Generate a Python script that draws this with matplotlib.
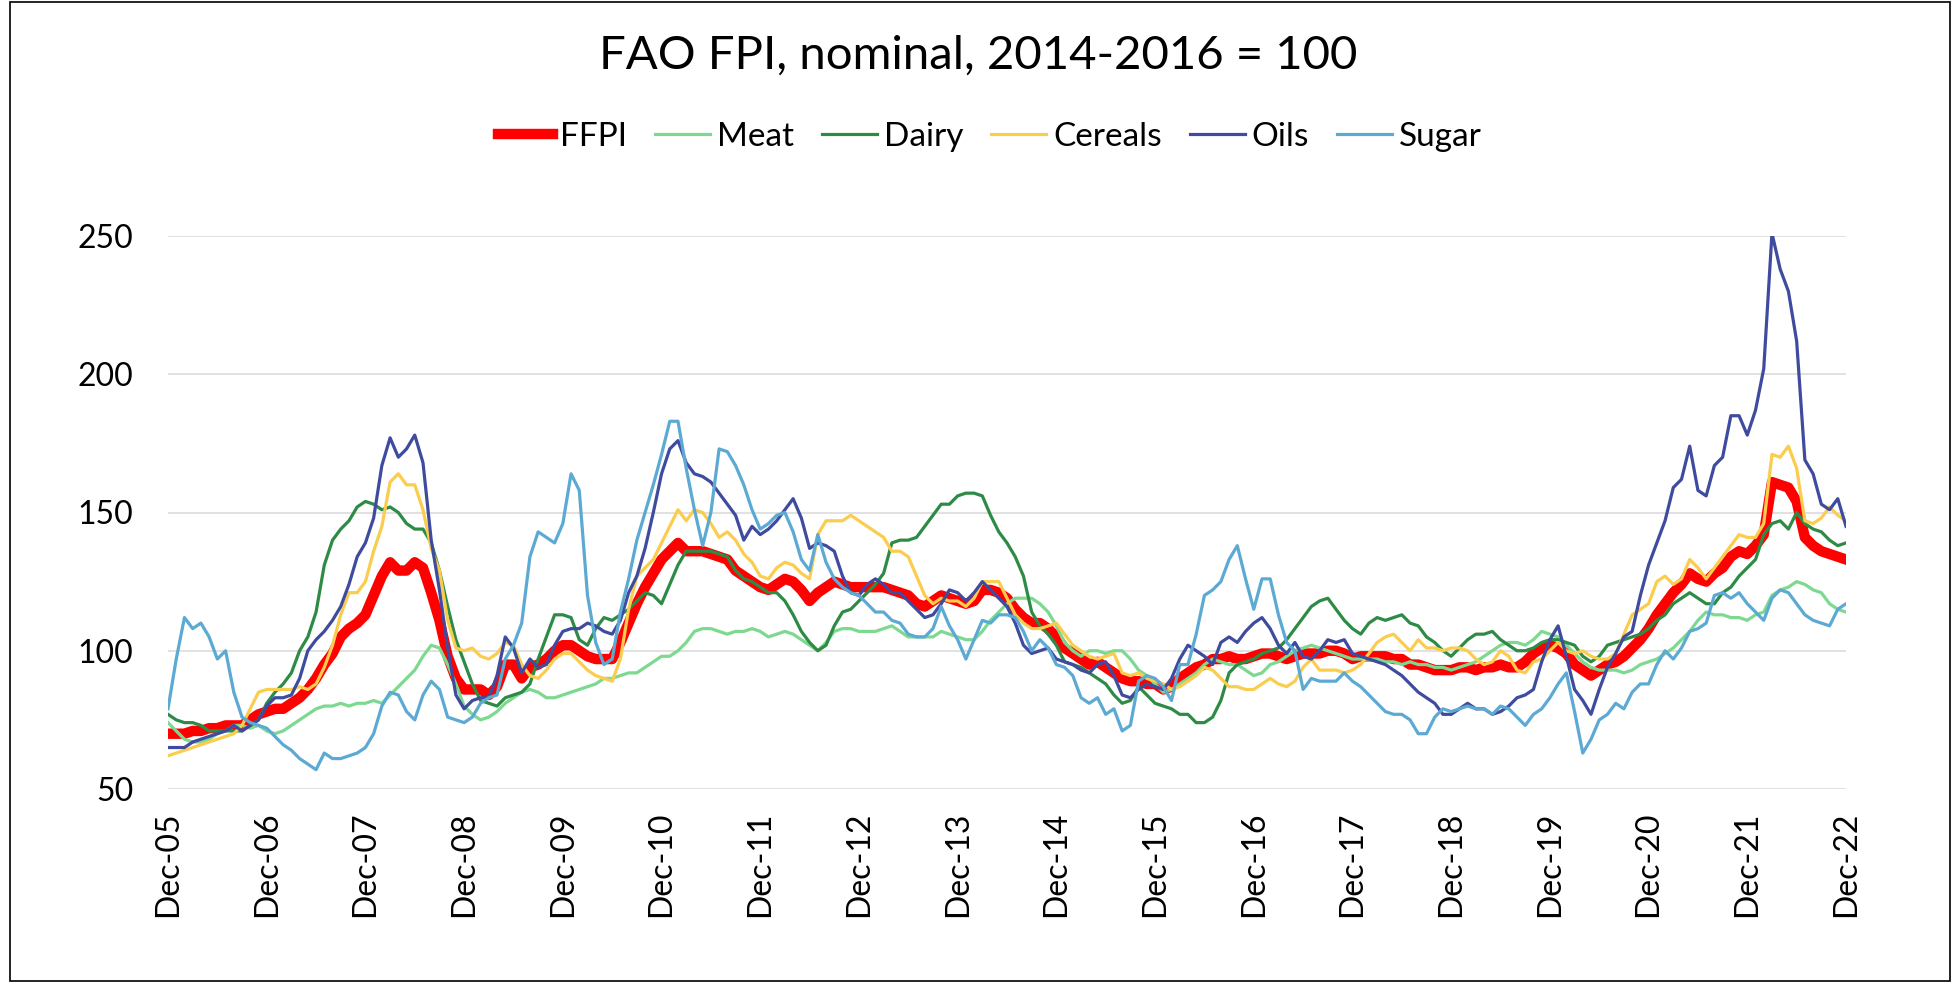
import numpy as np
import matplotlib
matplotlib.use("Agg")
import matplotlib.pyplot as plt
from matplotlib.patches import Rectangle

plt.rcParams['font.family'] = ['Lato', 'DejaVu Sans']

# monthly values, Dec-05 .. Dec-22 (2014-2016 = 100)
ffpi = [70,
        70, 70, 71, 71, 72, 72, 73, 73, 73, 75, 77, 78,          # 2006
        79, 79, 81, 83, 86, 90, 95, 99, 105, 108, 110, 113,      # 2007
        120, 127, 132, 129, 129, 132, 130, 121, 111, 98, 90, 86,  # 2008
        86, 86, 84, 87, 95, 95, 90, 94, 95, 97, 100, 102,        # 2009
        102, 100, 98, 97, 97, 97, 103, 110, 117, 123, 128, 133,  # 2010
        136, 139, 136, 136, 136, 135, 134, 133, 129, 127, 125, 123,  # 2011
        122, 124, 126, 125, 122, 118, 121, 123, 125, 124, 123, 123,  # 2012
        123, 123, 123, 122, 121, 120, 117, 116, 118, 120, 119, 118,  # 2013
        117, 118, 122, 122, 121, 119, 115, 112, 110, 110, 108, 105,  # 2014
        101, 99, 97, 95, 96, 94, 92, 90, 89, 89, 88, 88,         # 2015
        86, 87, 90, 92, 94, 95, 97, 97, 98, 97, 97, 98,          # 2016
        99, 99, 98, 97, 98, 99, 99, 99, 100, 100, 99, 97,        # 2017
        98, 98, 98, 98, 97, 97, 95, 95, 94, 93, 93, 93,          # 2018
        94, 94, 93, 94, 94, 95, 94, 94, 96, 99, 101, 102,        # 2019
        101, 99, 95, 93, 91, 93, 95, 96, 98, 101, 104, 108,      # 2020
        113, 117, 121, 124, 128, 126, 125, 128, 130, 134, 136, 135,  # 2021
        138, 142, 161, 160, 159, 154, 141, 138, 136, 135, 134, 133]  # 2022

meat = [74,
        71, 68, 67, 67, 68, 70, 71, 73, 73, 72, 73, 71,
        70, 71, 73, 75, 77, 79, 80, 80, 81, 80, 81, 81,
        82, 81, 84, 87, 90, 93, 98, 102, 101, 95, 88, 80,
        77, 75, 76, 78, 81, 83, 85, 86, 85, 83, 83, 84,
        85, 86, 87, 88, 90, 90, 91, 92, 92, 94, 96, 98,
        98, 100, 103, 107, 108, 108, 107, 106, 107, 107, 108, 107,
        105, 106, 107, 106, 104, 102, 100, 103, 107, 108, 108, 107,
        107, 107, 108, 109, 107, 105, 105, 105, 105, 107, 106, 105,
        104, 104, 107, 111, 114, 117, 119, 119, 119, 117, 114, 109,
        103, 100, 98, 100, 100, 99, 100, 100, 97, 93, 91, 88,
        85, 86, 88, 90, 92, 95, 97, 96, 95, 95, 93, 91,
        92, 95, 96, 98, 100, 101, 102, 101, 100, 99, 98, 97,
        97, 97, 97, 96, 96, 95, 96, 95, 95, 94, 94, 93,
        94, 95, 96, 98, 100, 102, 103, 103, 102, 104, 107, 106,
        105, 102, 99, 96, 94, 93, 93, 93, 92, 93, 95, 96,
        97, 99, 101, 104, 107, 111, 114, 113, 113, 112, 112, 111,
        113, 114, 120, 122, 123, 125, 124, 122, 121, 117, 115, 114]

dairy = [77,
         75, 74, 74, 73, 71, 71, 71, 71, 71, 73, 75, 81,
         85, 88, 92, 100, 105, 114, 131, 140, 144, 147, 152, 154,
         153, 151, 152, 150, 146, 144, 144, 139, 129, 116, 104, 96,
         88, 82, 81, 80, 83, 84, 85, 88, 97, 105, 113, 113,
         112, 104, 102, 108, 112, 111, 113, 115, 118, 121, 120, 117,
         124, 131, 136, 136, 136, 136, 135, 134, 129, 126, 125, 123,
         121, 121, 118, 113, 107, 103, 100, 102, 109, 114, 115, 118,
         121, 124, 128, 139, 140, 140, 141, 145, 149, 153, 153, 156,
         157, 157, 156, 149, 143, 139, 134, 127, 114, 109, 106, 102,
         96, 95, 94, 92, 90, 88, 84, 81, 82, 87, 84, 81,
         80, 79, 77, 77, 74, 74, 76, 82, 92, 95, 96, 97,
         99, 100, 101, 104, 108, 112, 116, 118, 119, 115, 111, 108,
         106, 110, 112, 111, 112, 113, 110, 109, 105, 103, 100, 98,
         101, 104, 106, 106, 107, 104, 102, 100, 100, 101, 103, 104,
         104, 103, 102, 98, 96, 98, 102, 103, 104, 105, 106, 108,
         111, 113, 117, 119, 121, 119, 117, 117, 121, 123, 127, 130,
         133, 142, 146, 147, 144, 150, 146, 144, 143, 140, 138, 139]

cereals = [62,
           63, 64, 65, 66, 67, 68, 69, 70, 73, 79, 85, 86,
           86, 86, 86, 87, 86, 88, 94, 102, 113, 121, 121, 125,
           136, 145, 161, 164, 160, 160, 151, 137, 129, 111, 101, 100,
           101, 98, 97, 99, 103, 102, 95, 91, 90, 93, 97, 99,
           99, 96, 93, 91, 90, 89, 97, 115, 127, 130, 133, 139,
           145, 151, 147, 151, 150, 146, 141, 143, 140, 135, 132, 127,
           126, 130, 132, 131, 128, 126, 142, 147, 147, 147, 149, 147,
           145, 143, 141, 136, 136, 134, 127, 120, 117, 119, 118, 118,
           116, 119, 125, 125, 125, 119, 113, 110, 108, 108, 109, 110,
           106, 102, 100, 98, 97, 98, 99, 92, 91, 92, 90, 89,
           88, 86, 87, 89, 91, 94, 93, 90, 87, 87, 86, 86,
           88, 90, 88, 87, 89, 94, 97, 93, 93, 93, 92, 93,
           95, 99, 103, 105, 106, 103, 100, 104, 101, 101, 100, 101,
           101, 100, 97, 95, 96, 100, 98, 93, 92, 96, 97, 100,
           103, 100, 99, 100, 98, 97, 97, 99, 106, 113, 115, 117,
           125, 127, 124, 126, 133, 130, 126, 130, 134, 138, 142, 141,
           141, 146, 171, 170, 174, 166, 147, 146, 148, 152, 149, 147]

oils = [65,
        65, 65, 67, 68, 69, 70, 71, 73, 71, 73, 75, 80,
        83, 83, 84, 90, 100, 104, 107, 111, 116, 124, 134, 139,
        148, 167, 177, 170, 173, 178, 168, 140, 122, 101, 84, 79,
        82, 83, 83, 91, 105, 101, 92, 97, 94, 95, 102, 107,
        108, 108, 110, 109, 107, 106, 111, 121, 127, 137, 150, 164,
        173, 176, 168, 164, 163, 161, 157, 153, 149, 140, 145, 142,
        144, 147, 151, 155, 148, 137, 139, 138, 136, 127, 121, 120,
        124, 126, 124, 121, 121, 118, 115, 112, 113, 117, 122, 121,
        118, 121, 125, 122, 119, 116, 110, 102, 99, 100, 101, 97,
        96, 95, 93, 92, 95, 96, 91, 84, 83, 86, 88, 87,
        86, 90, 97, 102, 100, 98, 95, 103, 105, 103, 107, 110,
        112, 108, 102, 99, 103, 98, 97, 100, 104, 103, 104, 99,
        98, 97, 96, 95, 93, 91, 88, 85, 83, 81, 77, 77,
        79, 81, 79, 79, 77, 78, 80, 83, 84, 86, 96, 104,
        109, 98, 86, 82, 77, 86, 94, 99, 105, 107, 120, 131,
        139, 147, 159, 162, 174, 158, 156, 167, 170, 185, 185, 178,
        187, 202, 251, 238, 230, 212, 169, 164, 153, 151, 155, 145]

sugar = [79,
         97, 112, 108, 110, 105, 97, 100, 85, 76, 74, 73, 72,
         69, 66, 64, 61, 59, 57, 63, 61, 61, 62, 63, 65,
         70, 80, 85, 84, 78, 75, 84, 89, 86, 76, 75, 74,
         76, 81, 83, 84, 97, 102, 110, 134, 143, 141, 139, 146,
         164, 158, 120, 103, 95, 97, 114, 126, 140, 150, 160, 171,
         183, 183, 166, 151, 138, 150, 173, 172, 167, 160, 151, 144,
         146, 149, 150, 143, 133, 129, 142, 132, 126, 123, 121, 120,
         117, 114, 114, 111, 110, 106, 105, 105, 108, 116, 109, 104,
         97, 104, 111, 110, 113, 113, 112, 107, 100, 104, 101, 95,
         94, 91, 83, 81, 83, 77, 79, 71, 73, 89, 91, 90,
         87, 82, 95, 95, 106, 120, 122, 125, 133, 138, 126, 115,
         126, 126, 113, 103, 100, 86, 90, 89, 89, 89, 92, 89,
         87, 84, 81, 78, 77, 77, 75, 70, 70, 76, 79, 78,
         79, 80, 79, 79, 77, 80, 79, 76, 73, 77, 79, 83,
         88, 92, 78, 63, 68, 75, 77, 81, 79, 85, 88, 88,
         95, 100, 97, 101, 107, 108, 110, 120, 121, 119, 121, 117,
         114, 111, 119, 122, 121, 117, 113, 111, 110, 109, 115, 117]

tick_labels = ['Dec-%02d' % y for y in range(5, 23)]

series = [('FFPI', ffpi, '#FF0000', 7.5),
          ('Meat', meat, '#7DD98F', 2.3),
          ('Dairy', dairy, '#2E8B45', 2.3),
          ('Cereals', cereals, '#FACD4E', 2.3),
          ('Oils', oils, '#3F4B9F', 2.3),
          ('Sugar', sugar, '#5CAAD3', 2.3)]

W, H = 1956, 982
fig = plt.figure(figsize=(W / 100, H / 100), dpi=100)
ax = fig.add_axes([168 / W, 1 - 789 / H, (1846 - 168) / W, (789 - 236) / H])

x = np.arange(len(ffpi))
for name, vals, col, lw in series:
    ax.plot(x, vals, color=col, lw=lw, label=name, solid_joinstyle='round')

ax.set_xlim(0, len(ffpi) - 1)
ax.set_ylim(50, 250)
ax.set_yticks([50, 100, 150, 200, 250])
ax.set_xticks(np.arange(0, len(ffpi), 12))
ax.set_xticklabels(tick_labels, rotation=90)
ax.tick_params(axis='y', length=0, pad=25, labelsize=23)
ax.tick_params(axis='x', length=0, pad=16, labelsize=23)
ax.grid(axis='y', color='#D9D9D9', lw=1.1)
ax.set_axisbelow(True)
for s in ax.spines.values():
    s.set_visible(False)

fig.text(0.5, 1 - 56 / H, 'FAO FPI, nominal, 2014-2016 = 100',
         ha='center', va='center', fontsize=34)

fig.legend(loc='center', bbox_to_anchor=(990 / W, 1 - 137 / H), ncol=6,
           frameon=False, fontsize=24, handlelength=1.65, handletextpad=0.2,
           columnspacing=0.85)

fig.patches.append(Rectangle((10 / W, 1 / H), 1940 / W, 979 / H,
                             transform=fig.transFigure, fill=False,
                             edgecolor='black', lw=1.2))

fig.savefig('out.png', dpi=100)
